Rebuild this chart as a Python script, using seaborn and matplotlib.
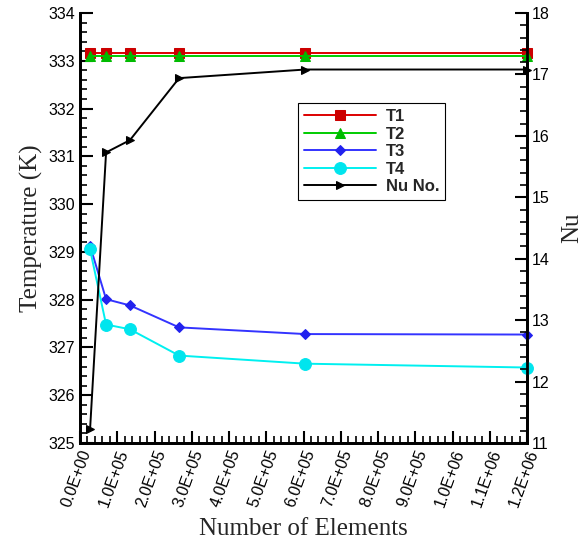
import numpy as np
import pandas as pd
import matplotlib
matplotlib.use("Agg")
import matplotlib.pyplot as plt
import seaborn as sns
from matplotlib.ticker import MultipleLocator, FuncFormatter

elements = [2.7e4, 7.0e4, 1.34e5, 2.66e5, 6.05e5, 1.2e6]
t1 = [333.16, 333.16, 333.16, 333.16, 333.16, 333.16]
t2 = [333.10, 333.10, 333.10, 333.10, 333.10, 333.10]
t3 = [329.13, 328.01, 327.88, 327.42, 327.28, 327.27]
t4 = [329.05, 327.48, 327.38, 326.83, 326.66, 326.58]
nu = [11.22, 15.73, 15.93, 16.94, 17.08, 17.08]

sns.set_style("ticks")
plt.rcParams['font.family'] = ['Liberation Sans', 'DejaVu Sans']

fig = plt.figure(figsize=(5.82, 5.4), dpi=100)
ax = fig.add_axes([80/582, 97/540, 447/582, 430/540])
ax2 = ax.twinx()

df = pd.DataFrame({"x": elements, "T1": t1, "T2": t2, "T3": t3, "T4": t4, "Nu": nu})

styles = [
    ("T1", "#dd0000", "#cc0000", "s", 6.5),
    ("T2", "#00cc00", "#00bb00", "^", 6.5),
    ("T3", "#3333ff", "#2222ee", "D", 5),
    ("T4", "#00f0f0", "#00e5ee", "o", 8.5),
]
for name, lc, mc, mk, ms in styles:
    sns.lineplot(data=df, x="x", y=name, ax=ax, color=lc, marker=mk, markersize=ms,
                 markerfacecolor=mc, markeredgecolor=mc, linewidth=1.4, label=name,
                 legend=False, clip_on=False, zorder=3)
sns.lineplot(data=df, x="x", y="Nu", ax=ax2, color="black", marker=">", markersize=6,
             markerfacecolor="black", markeredgecolor="black", linewidth=1.4, label="Nu No.",
             legend=False, clip_on=False, zorder=3)

ax.set_xlim(0, 1.2e6)
ax.set_ylim(325, 334)
ax2.set_ylim(11, 18)

ax.xaxis.set_major_locator(MultipleLocator(1e5))
ax.xaxis.set_minor_locator(MultipleLocator(2e4))
ax.yaxis.set_major_locator(MultipleLocator(1))
ax.yaxis.set_minor_locator(MultipleLocator(0.2))
ax2.yaxis.set_major_locator(MultipleLocator(1))
ax2.yaxis.set_minor_locator(MultipleLocator(0.2))
ax.xaxis.set_major_formatter(FuncFormatter(lambda v, p: "{:.1E}".format(v)))

for a in (ax, ax2):
    a.spines['top'].set_visible(False)
    for s in a.spines.values():
        s.set_linewidth(2)
        s.set_color("black")
ax.tick_params(which='both', direction='in', labelsize=11.5, width=1.5, colors='black')
ax.tick_params(which='major', length=9)
ax.tick_params(which='minor', length=5, width=1.2)
ax.tick_params(axis='y', which='both', right=False)
ax.tick_params(axis='x', which='both', top=False)
ax2.tick_params(which='both', direction='in', labelsize=11.5, width=1.5, colors='black')
ax2.tick_params(which='major', length=9)
ax2.tick_params(which='minor', length=5, width=1.2)

for lbl in ax.get_xticklabels():
    lbl.set_rotation(70)
    lbl.set_ha('right')
    lbl.set_va('top')
    lbl.set_rotation_mode('anchor')

serif = ['Liberation Serif', 'DejaVu Serif']
ax.set_xlabel("Number of Elements", fontsize=18, family=serif, labelpad=6)
ax.set_ylabel("Temperature (K)", fontsize=18, family=serif, labelpad=4)
ax2.set_ylabel("Nu", fontsize=18, family=serif, labelpad=8)

h1, l1 = ax.get_legend_handles_labels()
h2, l2 = ax2.get_legend_handles_labels()
leg = ax2.legend(h1 + h2, l1 + l2, loc='upper left', bbox_to_anchor=(0.488, 0.79),
                 borderaxespad=0, frameon=True, fancybox=False, framealpha=1,
                 edgecolor='black', handlelength=4.3, labelspacing=0.15,
                 borderpad=0.35, handletextpad=0.6,
                 prop={'weight': 'bold', 'size': 12, 'family': ['Liberation Sans']},
                 markerscale=1.0)
leg.get_frame().set_linewidth(0.8)

fig.savefig("out.png", dpi=100)
